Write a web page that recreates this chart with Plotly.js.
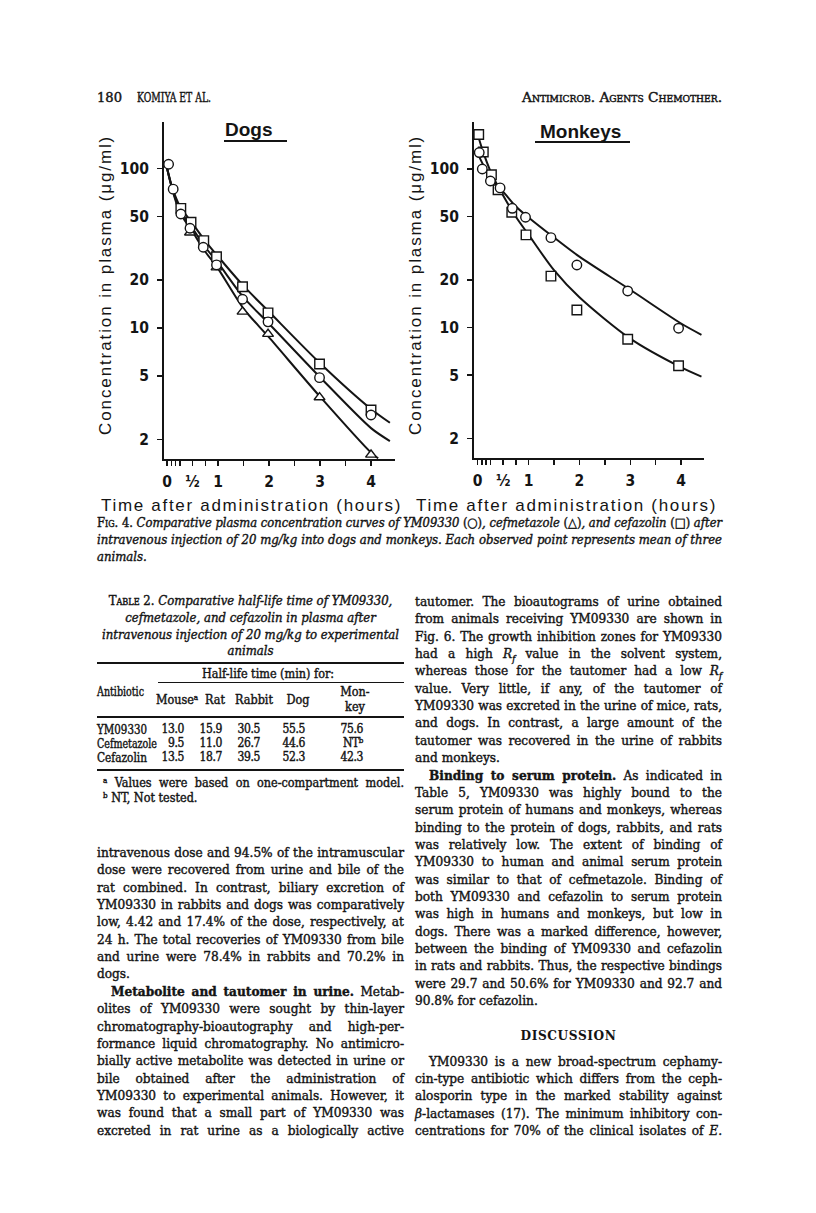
<!DOCTYPE html>
<html><head><meta charset="utf-8">
<script src="https://cdn.plot.ly/plotly-3.0.1.min.js"></script>
<style>
html,body{margin:0;padding:0;background:#fff;}
body{width:816px;height:1213px;position:relative;overflow:hidden;font-family:"DejaVu Serif Condensed","DejaVu Serif",serif;color:#141414;}
#plot{position:absolute;left:0;top:0;width:816px;height:530px;}
.ln{position:absolute;white-space:nowrap;height:18px;line-height:18px;font-size:13.5px;-webkit-text-stroke:0.4px #141414;}
.ln span{white-space:nowrap;}
.cap{font-size:13px;font-style:italic;}
.tt{font-size:13px;font-style:italic;}
.sc{font-variant:small-caps;font-style:normal;}
.ln.tab{font-size:12.5px;height:13px;line-height:13px;}
.ln.num{font-size:12px;letter-spacing:-0.4px;}
.ln.tab sup{line-height:0;vertical-align:4px;}
.disc{font-weight:bold;letter-spacing:0.6px;-webkit-text-stroke:0;}
.rule{position:absolute;background:#141414;}
</style>
</head><body>
<div id="plot"></div>
<div id="page"></div>
<script>
// ---------------- DATA ----------------
// Dogs: observed points (time h, concentration ug/ml)
const dogTimeYM = [0.03, 0.12, 0.27, 0.45, 0.71, 0.97, 1.48, 1.98, 2.99, 4.0];
const dogYM09330 = [106, 74, 51.7, 42.1, 32.0, 24.8, 15.1, 10.9, 4.87, 2.84];
const dogTimeCefaz = [0.27, 0.47, 0.72, 0.97, 1.48, 1.98, 2.99, 4.0];
const dogCefazolin = [56.1, 45.9, 35.2, 27.9, 18.1, 12.4, 5.93, 3.05];
const dogTimeCefm = [0.45, 0.97, 1.48, 1.98, 2.99, 4.0];
const dogCefmetazole = [39.5, 23.9, 12.6, 9.15, 3.66, 1.6];
// Dogs: fitted curves
const dogCurveTime = [0, 0.1, 0.25, 0.5, 0.75, 1, 1.5, 2, 3, 4, 4.37];
const dogCurveCefaz = [100, 76, 58, 45, 35, 28, 18.3, 12.6, 6.0, 3.1, 2.54];
const dogCurveYM = [100, 75, 55, 42, 32, 25.5, 15.5, 10.6, 4.9, 2.35, 1.95];
const dogCurveTimeCefm = [0, 0.1, 0.25, 0.5, 0.75, 1, 1.5, 2, 3, 4, 4.14];
const dogCurveCefm = [100, 74, 53, 40, 30, 23.5, 13.2, 8.7, 3.7, 1.65, 1.52];
// Monkeys: observed points
const monTimeYM = [0.03, 0.09, 0.25, 0.44, 0.68, 0.94, 1.44, 1.95, 2.95, 3.95];
const monYM09330 = [127, 100, 84, 76, 56.5, 49.6, 36.9, 24.8, 17.0, 9.9];
const monTimeCefaz = [0.02, 0.11, 0.27, 0.40, 0.67, 0.95, 1.44, 1.95, 2.95, 3.95];
const monCefazolin = [165, 128, 92, 74, 53.3, 38.4, 21.1, 12.9, 8.43, 5.74];
// Monkeys: fitted curves
const monCurveTimeYM = [0, 0.25, 0.5, 0.75, 1, 1.5, 2, 3, 4, 4.4];
const monCurveYM = [125, 88, 72, 58, 49.5, 37, 28, 17.3, 10.6, 9.0];
const monCurveTimeCefaz = [0, 0.1, 0.25, 0.5, 0.75, 1, 1.5, 2, 3, 4, 4.4];
const monCurveCefaz = [165, 130, 97, 68, 50, 38.5, 23, 15.5, 8.5, 5.6, 4.9];
// Axis ticks
const xTickVals = [0, 0.0833, 0.1667, 0.25, 0.5, 0.75, 1, 1.5, 2, 2.5, 3, 3.5, 4];
const xTickText = ['0', '', '', '', '½', '', '1', '', '2', '', '3', '', '4'];
const yTickVals = [2, 5, 10, 20, 50, 100];
const yTickText = ['2', '5', '10', '20', '50', '100'];
const panelTitles = ['Dogs', 'Monkeys'];
const xTitle = 'Time after administration (hours)';
const yTitle = 'Concentration in plasma (μg/ml)';
// Table 2 values
const tableCols = ['Mouse<sup style="font-size:8px">a</sup>', 'Rat', 'Rabbit', 'Dog'];
const rowNames = ['YM09330', 'Cefmetazole', 'Cefazolin'];
const rowYM = ['13.0', '15.9', '30.5', '55.5', '75.6'];
const rowCefm = ['9.5', '11.0', '26.7', '44.6', 'NT<sup style="font-size:8px">b</sup>'];
const rowCefaz = ['13.5', '18.7', '39.5', '52.3', '42.3'];

// ---------------- PLOT ----------------
const W = 816, H = 530;
const px = v => v / W, py = v => 1 - v / H;
const ink = '#141414';
const tickFont = {family: '"Liberation Sans Narrow","DejaVu Sans Condensed","Arial Narrow",sans-serif', size: 15.5, weight: 'bold', color: ink};
const titleFont = {family: '"Liberation Sans",Arial,sans-serif', size: 17, color: ink};
function curve(x, y, xa, ya) {
  return {x, y, xaxis: xa, yaxis: ya, mode: 'lines', line: {color: ink, width: 2, shape: 'spline', smoothing: 0.8}, hoverinfo: 'skip'};
}
function pts(x, y, sym, xa, ya) {
  return {x, y, xaxis: xa, yaxis: ya, mode: 'markers', marker: {symbol: sym, size: 9.5, color: '#fff', line: {color: ink, width: 1.4}}};
}
const traces = [
  curve(dogCurveTime, dogCurveCefaz, 'x', 'y'),
  curve(dogCurveTime, dogCurveYM, 'x', 'y'),
  curve(dogCurveTimeCefm, dogCurveCefm, 'x', 'y'),
  pts(dogTimeCefm, dogCefmetazole, 'triangle-up', 'x', 'y'),
  pts(dogTimeCefaz, dogCefazolin, 'square', 'x', 'y'),
  pts(dogTimeYM, dogYM09330, 'circle', 'x', 'y'),
  curve(monCurveTimeYM, monCurveYM, 'x2', 'y2'),
  curve(monCurveTimeCefaz, monCurveCefaz, 'x2', 'y2'),
  pts(monTimeCefaz, monCefazolin, 'square', 'x2', 'y2'),
  pts(monTimeYM, monYM09330, 'circle', 'x2', 'y2')
];
function xax(dom, rng, anchor) {
  return {domain: dom, range: rng, anchor, showline: true, linewidth: 2, linecolor: ink, showgrid: false, zeroline: false,
    ticks: 'outside', ticklen: 5, tickwidth: 1.5, tickcolor: ink, tickmode: 'array', tickvals: xTickVals, ticktext: xTickText,
    tickfont: tickFont, ticklabelstandoff: 2};
}
function yax(dom, rng, anchor) {
  return {domain: dom, range: rng, anchor, type: 'log', showline: true, linewidth: 2, linecolor: ink, showgrid: false, zeroline: false,
    ticks: 'outside', ticklen: 5, tickwidth: 1.5, tickcolor: ink, tickmode: 'array', tickvals: yTickVals, ticktext: yTickText,
    tickfont: tickFont, ticklabelstandoff: 5};
}
const sp = (t, s) => '<span style="letter-spacing:' + s + 'px">' + t + '</span>';
function ann(text, x, y, font, extra) {
  return Object.assign({text, x: px(x), y: py(y), xref: 'paper', yref: 'paper', showarrow: false, xanchor: 'center', yanchor: 'middle', font}, extra || {});
}
const panelFont = {family: '"Liberation Sans",Arial,sans-serif', size: 19, weight: 'bold', color: ink};
const layout = {
  width: W, height: H, margin: {l: 0, r: 0, t: 0, b: 0}, showlegend: false,
  paper_bgcolor: 'rgba(0,0,0,0)', plot_bgcolor: 'rgba(0,0,0,0)',
  xaxis: xax([px(164), px(395)], [-0.06, 4.47], 'y'),
  yaxis: yax([py(459), py(122)], [0.1774, 2.2903], 'x'),
  xaxis2: xax([px(474), px(704)], [-0.073, 4.45], 'y2'),
  yaxis2: yax([py(458), py(122)], [0.1767, 2.2965], 'x2'),
  annotations: [
    ann(panelTitles[0], 249, 130, panelFont),
    ann(panelTitles[1], 580, 131, panelFont),
    ann(sp(xTitle, 1.7), 251, 505, titleFont),
    ann(sp(xTitle, 1.7), 566, 505, titleFont),
    ann(sp(yTitle, 1.9), 105, 285, titleFont, {textangle: -90}),
    ann(sp(yTitle, 1.9), 415, 285, titleFont, {textangle: -90})
  ],
  shapes: [
    {type: 'line', xref: 'paper', yref: 'paper', x0: px(224), x1: px(287), y0: py(141), y1: py(141), line: {color: ink, width: 2}},
    {type: 'line', xref: 'paper', yref: 'paper', x0: px(535), x1: px(630), y0: py(142), y1: py(142), line: {color: ink, width: 2}}
  ]
};
Plotly.newPlot('plot', traces, layout, {staticPlot: true, displayModeBar: false});

// ---------------- PAGE TEXT ----------------
const page = document.getElementById('page');
function line(html, x, yc, w, opts) {
  opts = opts || {};
  const d = document.createElement('div');
  d.className = 'ln ' + (opts.cls || '');
  page.appendChild(d);
  const hh = d.classList.contains('tab') ? 6.5 : 9;
  d.style.left = x + 'px'; d.style.top = (yc - hh) + 'px';
  if (w) d.style.width = w + 'px';
  if (opts.align) d.style.textAlign = opts.align;
  const s = document.createElement('span');
  s.innerHTML = html; d.appendChild(s);
  if (w) {
    const nat = s.getBoundingClientRect().width;
    if (nat > w || opts.fit) {
      s.style.display = 'inline-block';
      s.style.transformOrigin = opts.align === 'center' ? '50% 50%' : (opts.align === 'right' ? '100% 50%' : '0 50%');
      s.style.transform = 'scaleX(' + (w / nat) + ')';
    } else if (opts.justify) {
      const n = (s.textContent.match(/ /g) || []).length;
      if (n) s.style.wordSpacing = ((w - nat) / n) + 'px';
    }
  }
  return d;
}
function rule(x, y, w, h) {
  const r = document.createElement('div'); r.className = 'rule';
  r.style.left = x + 'px'; r.style.top = y + 'px'; r.style.width = w + 'px'; r.style.height = (h || 1) + 'px';
  page.appendChild(r);
}
// header
line('180', 97, 97, 25, {fit: true});
line('KOMIYA ET AL.', 137, 97, 74, {fit: true});
line('Antimicrob. Agents Chemother.', 522, 97, 200, {cls: 'sc', fit: true});
// caption
const capL = 97, capW = 625;
line('<span class="sc">Fig.</span> <span style="font-style:normal">4.</span> Comparative plasma concentration curves of YM09330 <span style="font-style:normal">(○)</span>, cefmetazole <span style="font-style:normal">(△)</span>, and cefazolin <span style="font-style:normal">(□)</span> after', capL, 523, capW, {cls: 'cap', justify: true});
line('intravenous injection of 20 mg/kg into dogs and monkeys. Each observed point represents mean of three', capL, 540, capW, {cls: 'cap', justify: true});
line('animals.', capL, 557, null, {cls: 'cap'});
// table title
const tt = ['<span class="sc">Table</span> <span style="font-style:normal">2.</span> Comparative half-life time of YM09330,', 'cefmetazole, and cefazolin in plasma after', 'intravenous injection of 20 mg/kg to experimental', 'animals'];
tt.forEach((t, i) => line(t, 97, 601 + i * 16.8, 307, {cls: 'tt', align: 'center'}));
// table body
rule(97, 662, 307, 1.6);
line('Half-life time (min) for:', 158, 673, 220, {cls: 'tab', align: 'center'});
rule(158, 682, 246, 1);
line('Antibiotic', 97, 691, 47, {cls: 'tab', fit: true});
const colC = [177, 215, 254, 298, 355];
const colR = [184, 222, 260, 305, 363];
tableCols.forEach((h, i) => line(h, colC[i] - 25, 699, 50, {cls: 'tab', align: 'center'}));
line('Mon-', colC[4] - 25, 691, 50, {cls: 'tab', align: 'center'});
line('key', colC[4] - 25, 706, 50, {cls: 'tab', align: 'center'});
rule(97, 716, 307, 1.6);
const rows = [rowYM, rowCefm, rowCefaz];
const rowW = [50, 60, 50];
rowNames.forEach((r, i) => {
  const y = 729 + i * 14;
  line(r, 97, y, rowW[i], {cls: 'tab', fit: true});
  rows[i].forEach((v, j) => line(v, colR[j] - 40, y, 40, {cls: 'tab num', align: 'right'}));
});
rule(97, 769, 307, 1.6);
line('<sup style="font-size:8px">a</sup> Values were based on one-compartment model.', 103, 782, 301, {cls: 'tab', justify: true});
line('<sup style="font-size:8px">b</sup> NT, Not tested.', 103, 797, null, {cls: 'tab'});
// left column text
const LH = 17.35;
const left = [
  ['intravenous dose and 94.5% of the intramuscular', 1],
  ['dose were recovered from urine and bile of the', 1],
  ['rat combined. In contrast, biliary excretion of', 1],
  ['YM09330 in rabbits and dogs was comparatively', 1],
  ['low, 4.42 and 17.4% of the dose, respectively, at', 1],
  ['24 h. The total recoveries of YM09330 from bile', 1],
  ['and urine were 78.4% in rabbits and 70.2% in', 1],
  ['dogs.', 0],
  ['<b>Metabolite and tautomer in urine.</b> Metab-', 1, 14],
  ['olites of YM09330 were sought by thin-layer', 1],
  ['chromatography-bioautography and high-per-', 1],
  ['formance liquid chromatography. No antimicro-', 1],
  ['bially active metabolite was detected in urine or', 1],
  ['bile obtained after the administration of', 1],
  ['YM09330 to experimental animals. However, it', 1],
  ['was found that a small part of YM09330 was', 1],
  ['excreted in rat urine as a biologically active', 1]
];
left.forEach((l, i) => {
  const ind = l[2] || 0;
  line(l[0], 97 + ind, 852 + i * LH, l[1] ? 307 - ind : null, {justify: !!l[1]});
});
// right column text
const right = [
  ['tautomer. The bioautograms of urine obtained', 1, 0, 0],
  ['from animals receiving YM09330 are shown in', 1, 0, 1],
  ['Fig. 6. The growth inhibition zones for YM09330', 1, 0, 2],
  ['had a high <i>R<sub style="font-size:9px">f</sub></i> value in the solvent system,', 1, 0, 3],
  ['whereas those for the tautomer had a low <i>R<sub style="font-size:9px">f</sub></i>', 1, 0, 4],
  ['value. Very little, if any, of the tautomer of', 1, 0, 5],
  ['YM09330 was excreted in the urine of mice, rats,', 1, 0, 6],
  ['and dogs. In contrast, a large amount of the', 1, 0, 7],
  ['tautomer was recovered in the urine of rabbits', 1, 0, 8],
  ['and monkeys.', 0, 0, 9],
  ['<b>Binding to serum protein.</b> As indicated in', 1, 14, 10],
  ['Table 5, YM09330 was highly bound to the', 1, 0, 11],
  ['serum protein of humans and monkeys, whereas', 1, 0, 12],
  ['binding to the protein of dogs, rabbits, and rats', 1, 0, 13],
  ['was relatively low. The extent of binding of', 1, 0, 14],
  ['YM09330 to human and animal serum protein', 1, 0, 15],
  ['was similar to that of cefmetazole. Binding of', 1, 0, 16],
  ['both YM09330 and cefazolin to serum protein', 1, 0, 17],
  ['was high in humans and monkeys, but low in', 1, 0, 18],
  ['dogs. There was a marked difference, however,', 1, 0, 19],
  ['between the binding of YM09330 and cefazolin', 1, 0, 20],
  ['in rats and rabbits. Thus, the respective bindings', 1, 0, 21],
  ['were 29.7 and 50.6% for YM09330 and 92.7 and', 1, 0, 22],
  ['90.8% for cefazolin.', 0, 0, 23],
  ['YM09330 is a new broad-spectrum cephamy-', 1, 14, 26.5],
  ['cin-type antibiotic which differs from the ceph-', 1, 0, 27.5],
  ['alosporin type in the marked stability against', 1, 0, 28.5],
  ['<i>β</i>-lactamases (17). The minimum inhibitory con-', 1, 0, 29.5],
  ['centrations for 70% of the clinical isolates of <i>E.</i>', 1, 0, 30.5]
];
right.forEach(l => {
  const ind = l[2];
  line(l[0], 415 + ind, 601 + l[3] * LH, l[1] ? 307 - ind : null, {justify: !!l[1]});
});
line('DISCUSSION', 415, 601 + 25 * LH, 307, {align: 'center', cls: 'disc'});
</script>
</body></html>
